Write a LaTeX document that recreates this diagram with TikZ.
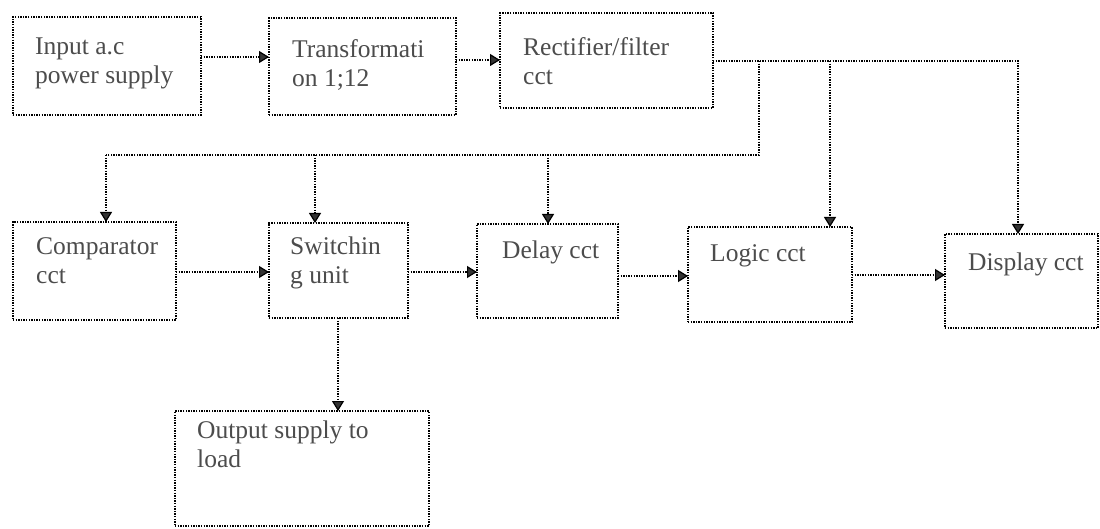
\documentclass[tikz,border=0pt]{standalone}
\usepackage{fontspec}
\setmainfont{Liberation Serif}
\usetikzlibrary{arrows.meta,calc}
\begin{document}
\begin{tikzpicture}[x=1pt,y=-1pt,
  box/.style={draw=black, line width=1.2pt, dash pattern=on 1.4pt off 1.2pt, inner sep=0pt, outer sep=0pt, anchor=north west},
  line/.style={draw=black, line width=1.2pt, dash pattern=on 1.4pt off 1.2pt},
  arr/.style={line, -{Triangle[width=12pt,length=10pt,fill=black!80]}},
  txt/.style={anchor=north west, inner sep=0pt, align=left, text=black!70, font=\fontsize{25.5}{29}\selectfont}]
\useasboundingbox (0,0) rectangle (1100,529);
% boxes
\node[box, minimum width=188pt, minimum height=98pt] (in) at (13,17) {};
\node[box, minimum width=187pt, minimum height=97pt] (tr) at (269,18) {};
\node[box, minimum width=213pt, minimum height=95pt] (rf) at (500,13) {};
\node[box, minimum width=163pt, minimum height=98pt] (cmp) at (13,222) {};
\node[box, minimum width=139pt, minimum height=95pt] (sw) at (269,223) {};
\node[box, minimum width=141pt, minimum height=94pt] (dl) at (477,224) {};
\node[box, minimum width=164pt, minimum height=95pt] (lg) at (688,227) {};
\node[box, minimum width=153pt, minimum height=94pt] (dp) at (945,234) {};
\node[box, minimum width=254pt, minimum height=115pt] (out) at (175,411) {};
% texts
\node[txt] (tin) at (35,38) {Input a.c\\power supply};
\node[txt] (ttr) at (292,39) {Transformati\\on 1;12};
\node[txt] (trf) at (523,37) {Rectifier/filter\\cct};
\node[txt] (tcmp) at (36,237) {Comparator\\cct};
\node[txt] (tsw) at (290,237) {Switchin\\g unit};
\node[txt] (tdl) at (502,241) {Delay cct};
\node[txt] (tlg) at (710,244) {Logic cct};
\node[txt] (tdp) at (968,253) {Display cct};
\node[txt] (tout) at (197,421) {Output supply to\\load};
% top row arrows
\draw[arr] ([yshift=-40pt]in.north east) -- ([yshift=-39pt]tr.north west);
\draw[arr] ([yshift=-42pt]tr.north east) -- ([yshift=-47pt]rf.north west);
% bus from rectifier
\coordinate (bus) at ([yshift=-48pt]rf.north east);
\coordinate (dpin) at ([xshift=73pt]dp.north west);
\coordinate (lgin) at ([xshift=142pt]lg.north west);
\coordinate (dlin) at ([xshift=71pt]dl.north west);
\coordinate (swin) at ([xshift=46pt]sw.north west);
\coordinate (cmpin) at ([xshift=93pt]cmp.north west);
\coordinate (j) at (759,155);
\draw[arr] (bus) -| (dpin);
\draw[arr] (lgin |- bus) -- (lgin);
\draw[line] (j |- bus) -- (j) -- (j -| cmpin);
\draw[arr] (j -| cmpin) -- (cmpin);
\draw[arr] (j -| swin) -- (swin);
\draw[arr] (j -| dlin) -- (dlin);
% middle row arrows
\draw[arr] ([yshift=-50pt]cmp.north east) -- ([yshift=-49pt]sw.north west);
\draw[arr] ([yshift=-49pt]sw.north east) -- ([yshift=-48pt]dl.north west);
\draw[arr] ([yshift=-52pt]dl.north east) -- ([yshift=-49pt]lg.north west);
\draw[arr] ([yshift=-48pt]lg.north east) -- ([yshift=-41pt]dp.north west);
% to output
\draw[arr] ([xshift=69pt]sw.south west) -- ([xshift=163pt]out.north west);
\end{tikzpicture}
\end{document}
